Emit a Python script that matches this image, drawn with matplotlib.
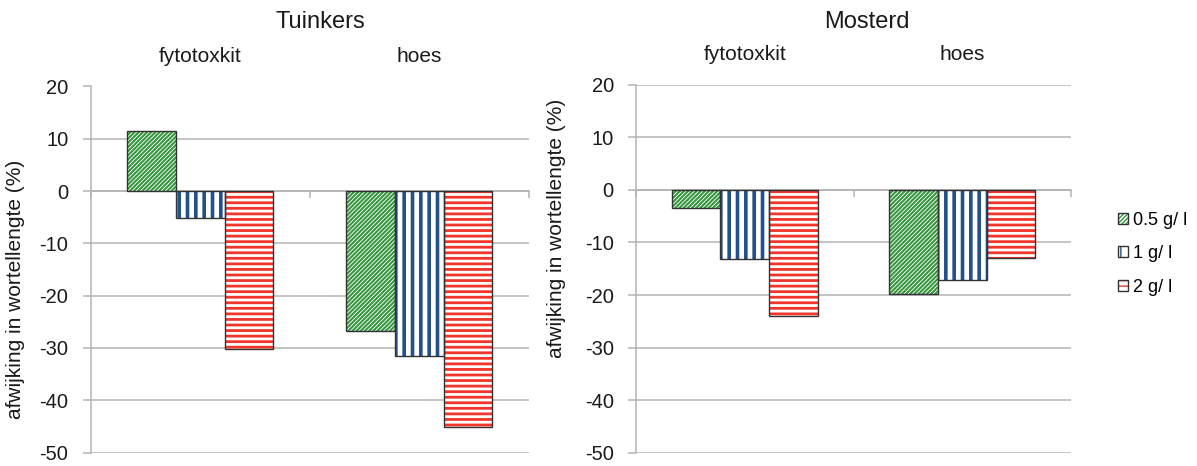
import numpy as np
import matplotlib.pyplot as plt
from matplotlib.patches import Patch
from matplotlib.legend_handler import HandlerTuple

plt.rcParams["font.family"] = ["Liberation Sans", "DejaVu Sans"]
plt.rcParams["axes.unicode_minus"] = False

categories = ["fytotoxkit", "hoes"]
series = ["0.5 g/ l", "1 g/ l", "2 g/ l"]
tuinkers = [[11.4, -26.7], [-5.1, -31.6], [-30.3, -45.2]]
mosterd = [[-3.4, -19.8], [-13.1, -17.2], [-24.0, -13.0]]
yticks = [20, 10, 0, -10, -20, -30, -40, -50]

hatch_colors = ["#35963d", "#23508a", "#f0352b"]
hatches = ["////////", "||", "---"]
hatch_lw = [1.5, 2.6, 2.0]
edge = "#333333"
grid = "#b4b4b4"

fig = plt.figure(figsize=(11.97, 4.66), dpi=100)
ax1 = fig.add_axes([90.7 / 1197, 13.5 / 466, 438 / 1197, 366 / 466])
ax2 = fig.add_axes([636 / 1197, 13 / 466, 435 / 1197, 368.5 / 466])

w = 0.223
x = np.arange(len(categories))


def draw_panel(ax, data, title_x, title):
    for i, vals in enumerate(data):
        bars = ax.bar(x + (i - 1) * w, vals, w, color="white", edgecolor=hatch_colors[i],
                      hatch=hatches[i], linewidth=0, zorder=3)
        for b in bars:
            b.set_hatch_linewidth(hatch_lw[i])
        ax.bar(x + (i - 1) * w, vals, w, fill=False, edgecolor=edge, linewidth=1.0, zorder=4)
    ax.set_xlim(-0.5, 1.5)
    ax.set_ylim(-50, 20)
    ax.set_yticks(yticks)
    ax.grid(axis="y", color=grid, linewidth=1.1, zorder=0)
    ax.set_axisbelow(True)
    for s in ["top", "right"]:
        ax.spines[s].set_visible(False)
    ax.spines["left"].set_color(grid)
    ax.spines["left"].set_linewidth(1.1)
    ax.spines["bottom"].set_position(("data", 0))
    ax.spines["bottom"].set_color(grid)
    ax.spines["bottom"].set_linewidth(1.1)
    ax.set_xticks([-0.5, 0.5, 1.5])
    ax.set_xticklabels([])
    ax.tick_params(axis="x", length=5, color=grid, width=1.1, direction="out")
    ax.tick_params(axis="y", length=6, color=grid, width=1.1, labelsize=14.5,
                   labelcolor="#1a1a1a", pad=10)
    for xi, c in zip(x, categories):
        ax.text(xi, 1.081, c, transform=ax.get_xaxis_transform(), ha="center",
                va="center", fontsize=15, color="#1a1a1a")
    fig.text(title_x / 1197, 1 - 22 / 466, title, ha="center", va="center",
             fontsize=17, color="#1a1a1a")
    ax.set_ylabel("afwijking in wortellengte (%)", fontsize=15, color="#1a1a1a")


draw_panel(ax1, tuinkers, 320, "Tuinkers")
draw_panel(ax2, mosterd, 867, "Mosterd")
ax1.yaxis.set_label_coords(-0.150, 0.445)
ax2.yaxis.set_label_coords(-0.161, 0.61)

handles = []
for i in range(3):
    hp = Patch(facecolor="white", edgecolor=hatch_colors[i], hatch=hatches[i], linewidth=0)
    hp.set_hatch_linewidth(hatch_lw[i])
    op = Patch(fill=False, edgecolor=edge, linewidth=1.0)
    handles.append((hp, op))

fig.legend(handles, series, handler_map={tuple: HandlerTuple(ndivide=1, pad=0)},
           loc="upper left", bbox_to_anchor=(1118 / 1197, 1 - 212 / 466),
           frameon=False, fontsize=13, borderpad=0, borderaxespad=0,
           handlelength=0.55, handleheight=0.55, handletextpad=0.3, labelspacing=0.9)

fig.savefig("out.png", dpi=100)
